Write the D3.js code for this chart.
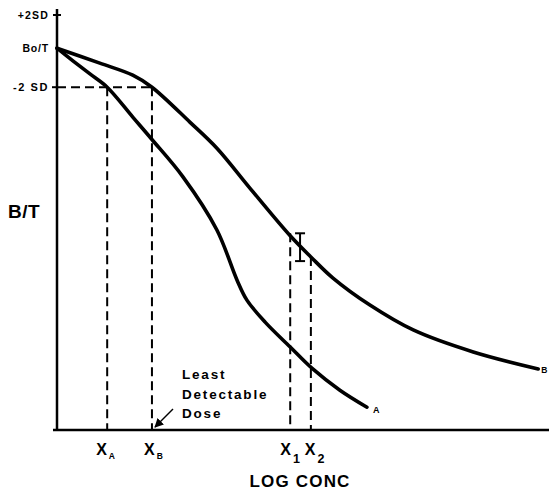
<!DOCTYPE html>
<html><head><meta charset="utf-8">
<script src="https://cdn.jsdelivr.net/npm/d3@7"></script>
<style>
body{margin:0;background:#fff;}
text{font-family:"Liberation Sans",Arial,Helvetica,sans-serif;font-weight:bold;fill:#000;}
</style></head>
<body><svg id="c" width="549" height="490"></svg>
<script>
// Data (arbitrary units: log concentration 0-100, B/T 0-100)
const curveA_x = [0, 3.3, 6.7, 10.2, 15.4, 19.3, 25.6, 32.5, 36.6, 38.6, 42.3, 47.4, 51.8, 57.5, 63.0];
const curveA_y = [92.0, 88.9, 85.8, 82.6, 75.4, 70.0, 61.0, 48.2, 36.1, 31.3, 26.0, 20.0, 14.9, 9.6, 5.5];
const curveB_x = [0, 8.7, 15.4, 19.3, 27.0, 32.5, 39.2, 47.4, 51.6, 56.1, 63.6, 72.4, 84.6, 97.8];
const curveB_y = [92.0, 88.4, 85.5, 82.6, 74.2, 67.9, 58.3, 46.8, 41.7, 36.6, 30.1, 24.1, 18.8, 14.7];
const yTickLabels = ["+2SD", "Bo/T", "-2 SD"];
const yTickValues = [100, 92.0, 82.6];
const xMarkLabels = ["X", "X", "X", "X"];
const xMarkSubs = ["A", "B", "1", "2"];
const xMarkValues = [10.2, 19.3, 47.4, 51.6];
const xMarkTops = [82.6, 82.6, 47.4, 41.7];
const errorBar = {x: 49.4, low: 40.7, high: 47.4};
const detectLines = ["Least", "Detectable", "Dose"];

const svg = d3.select("#c");
const x = d3.scaleLinear().domain([0, 100]).range([57, 549]);
const y = d3.scaleLinear().domain([0, 100]).range([430, 15]);

// axes
svg.append("line").attr("x1", x(0)).attr("x2", x(0)).attr("y1", 9).attr("y2", y(0) + 1)
  .attr("stroke", "#000").attr("stroke-width", 2.5);
svg.append("line").attr("x1", 53).attr("x2", 549).attr("y1", y(0)).attr("y2", y(0))
  .attr("stroke", "#000").attr("stroke-width", 2.5);
svg.append("line").attr("x1", x(0) - 4).attr("x2", x(0) + 4).attr("y1", y(100)).attr("y2", y(100))
  .attr("stroke", "#000").attr("stroke-width", 2);
svg.append("line").attr("x1", x(0) - 5).attr("x2", x(0)).attr("y1", y(yTickValues[2])).attr("y2", y(yTickValues[2]))
  .attr("stroke", "#000").attr("stroke-width", 2);

// y tick labels
const ySizes = [10.5, 10.5, 11];
const ySpacing = [1.2, 0.8, 1.6];
yTickLabels.forEach((t, i) => {
  svg.append("text").attr("x", x(0) - 8).attr("y", y(yTickValues[i]) + 4)
    .attr("text-anchor", "end").attr("font-size", ySizes[i]).attr("letter-spacing", ySpacing[i]).text(t);
});

// dashed guides
const dash = "9,5";
svg.append("line").attr("x1", x(0)).attr("x2", x(xMarkValues[1])).attr("y1", y(82.6)).attr("y2", y(82.6))
  .attr("stroke", "#000").attr("stroke-width", 2).attr("stroke-dasharray", dash);
xMarkValues.forEach((v, i) => {
  svg.append("line").attr("x1", x(v)).attr("x2", x(v)).attr("y1", y(xMarkTops[i])).attr("y2", y(0))
    .attr("stroke", "#000").attr("stroke-width", 2).attr("stroke-dasharray", dash);
});

// curves
const line = d3.line().x(d => x(d[0])).y(d => y(d[1])).curve(d3.curveCatmullRom.alpha(0.5));
svg.append("path").datum(d3.zip(curveA_x, curveA_y)).attr("d", line)
  .attr("fill", "none").attr("stroke", "#000").attr("stroke-width", 3.6).attr("stroke-linecap", "round");
svg.append("path").datum(d3.zip(curveB_x, curveB_y)).attr("d", line)
  .attr("fill", "none").attr("stroke", "#000").attr("stroke-width", 3.6).attr("stroke-linecap", "round");
svg.append("text").attr("x", x(curveA_x[curveA_x.length - 1]) + 6).attr("y", y(curveA_y[curveA_y.length - 1]) + 6)
  .attr("font-size", 9).text("A");
svg.append("text").attr("x", x(curveB_x[curveB_x.length - 1]) + 3).attr("y", y(curveB_y[curveB_y.length - 1]) + 4)
  .attr("font-size", 8.5).text("B");

// error bar (I-beam)
const eb = svg.append("g").attr("stroke", "#000").attr("stroke-width", 2);
eb.append("line").attr("x1", x(errorBar.x)).attr("x2", x(errorBar.x)).attr("y1", y(errorBar.high)).attr("y2", y(errorBar.low));
eb.append("line").attr("x1", x(errorBar.x) - 5).attr("x2", x(errorBar.x) + 5).attr("y1", y(errorBar.high)).attr("y2", y(errorBar.high));
eb.append("line").attr("x1", x(errorBar.x) - 5).attr("x2", x(errorBar.x) + 5).attr("y1", y(errorBar.low)).attr("y2", y(errorBar.low));

// x mark labels
const xOff = [-11, -8, -10, -6];
xMarkValues.forEach((v, i) => {
  const t = svg.append("text").attr("x", x(v) + xOff[i]).attr("y", 455).attr("font-size", 16);
  t.append("tspan").text(xMarkLabels[i]);
  const isNum = /\d/.test(xMarkSubs[i]);
  t.append("tspan").attr("dx", 2).attr("dy", isNum ? 8 : 4)
    .attr("font-size", isNum ? 12.5 : 8.5).text(xMarkSubs[i]);
});

// axis titles
svg.append("text").attr("x", 8).attr("y", 218).attr("font-size", 19).attr("letter-spacing", 0.5).text("B/T");
svg.append("text").attr("x", 300).attr("y", 487).attr("text-anchor", "middle")
  .attr("font-size", 17).attr("letter-spacing", 1.2).text("LOG CONC");

// Least detectable dose annotation
detectLines.forEach((t, i) => {
  svg.append("text").attr("x", 182).attr("y", 379 + i * 19.5).attr("font-size", 13.5)
    .attr("letter-spacing", 1.8).text(t);
});
svg.append("defs").append("marker").attr("id", "ah").attr("viewBox", "0 0 10 10")
  .attr("refX", 9).attr("refY", 5).attr("markerWidth", 6).attr("markerHeight", 6).attr("orient", "auto")
  .append("path").attr("d", "M0,0L10,5L0,10z").attr("fill", "#000");
svg.append("line").attr("x1", 173).attr("y1", 409).attr("x2", 155).attr("y2", 427)
  .attr("stroke", "#000").attr("stroke-width", 1.5).attr("marker-end", "url(#ah)");
</script></body></html>
